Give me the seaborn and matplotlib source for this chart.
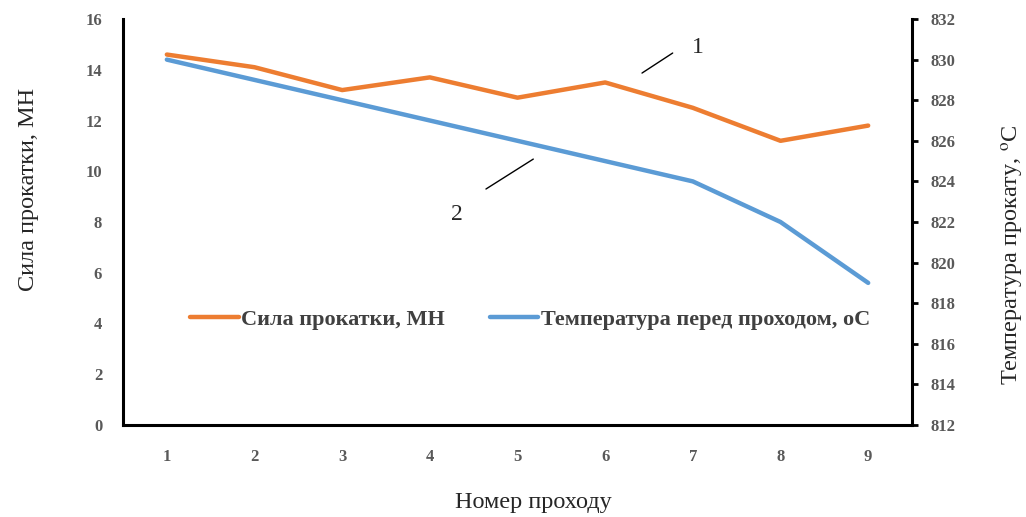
import matplotlib
matplotlib.use("Agg")
import matplotlib.pyplot as plt
import seaborn as sns

# data
passes = [1, 2, 3, 4, 5, 6, 7, 8, 9]
force = [14.6, 14.1, 13.2, 13.7, 12.9, 13.5, 12.5, 11.2, 11.8]
temperature = [830, 829, 828, 827, 826, 825, 824, 822, 819]
force_ticks = list(range(0, 17, 2))
temp_ticks = list(range(812, 833, 2))

force_label = "Сила прокатки, МН"
temp_label = "Температура перед проходом, оС"

ORANGE = "#ED7D31"
BLUE = "#5B9BD5"
TICK_GREY = "#595959"

sns.set_theme(style="white")
plt.rcParams["font.family"] = ["Liberation Serif", "DejaVu Serif"]
plt.rcParams["mathtext.fontset"] = "stix"

fig = plt.figure(figsize=(10.26, 5.17), dpi=100)
ax = fig.add_axes([0.1199, 0.178, 0.7690, 0.7852])
ax2 = ax.twinx()

sns.lineplot(x=passes, y=force, ax=ax, color=ORANGE, linewidth=3.2,
             label=force_label, legend=False)
sns.lineplot(x=passes, y=temperature, ax=ax2, color=BLUE, linewidth=3.2,
             label=temp_label, legend=False)

ax.set_xlim(0.5, 9.5)
ax.set_ylim(0, 16)
ax2.set_ylim(812, 832)
ax.set_xticks(passes)
ax.set_yticks(force_ticks)
ax2.set_yticks(temp_ticks)

tick_font = dict(fontsize=12, fontweight="bold", color=TICK_GREY)
ax.set_xticklabels([str(p) for p in passes], **tick_font)
ax.set_yticklabels([str(t) for t in force_ticks], **tick_font)
ax2.set_yticklabels([str(t) for t in temp_ticks], **tick_font)

ax.tick_params(axis="x", length=0, pad=17)
ax.tick_params(axis="y", left=False, length=0, pad=15)
ax2.tick_params(axis="y", right=True, direction="out", length=4.5,
                width=2, color="black", pad=9)

for a in (ax, ax2):
    for side in ("top", "right", "left", "bottom"):
        a.spines[side].set_visible(False)
ax.spines["left"].set_visible(True)
ax.spines["bottom"].set_visible(True)
ax2.spines["right"].set_visible(True)
for sp in (ax.spines["left"], ax.spines["bottom"], ax2.spines["right"]):
    sp.set_color("black")
    sp.set_linewidth(2.2)

ax.set_xlabel("Номер проходу", fontsize=17.5)
ax.xaxis.set_label_coords(0.52, -0.165)
ax.set_ylabel(force_label, fontsize=17.5)
ax.yaxis.set_label_coords(-0.107, 0.58)
ax2.set_ylabel(r"Температура прокату, $^{\rm o}$C", fontsize=17.5, rotation=90)
ax2.yaxis.set_label_coords(1.112, 0.42)

# combined legend inside the plot
h1, l1 = ax.get_legend_handles_labels()
h2, l2 = ax2.get_legend_handles_labels()
leg = ax2.legend(h1 + h2, l1 + l2, loc="center", bbox_to_anchor=(0.516, 0.259),
                 ncol=2, frameon=False, handlelength=2.2, handletextpad=0.12,
                 columnspacing=2.0,
                 prop=dict(family="Liberation Serif", weight="bold", size=16))
for txt in leg.get_texts():
    txt.set_color("#404040")

# numbered callouts for the two curves
line_kw = dict(arrowstyle="-", color="black", lw=1, shrinkA=0, shrinkB=0)
ax.annotate("", xy=(6.42, 13.87), xytext=(6.77, 14.66), arrowprops=line_kw)
ax.annotate("1", xy=(7.06, 14.86), ha="center", va="center", fontsize=17)
ax.annotate("", xy=(4.64, 9.30), xytext=(5.18, 10.48), arrowprops=line_kw)
ax.annotate("2", xy=(4.31, 8.28), ha="center", va="center", fontsize=17)

fig.savefig("out.png", dpi=100)
